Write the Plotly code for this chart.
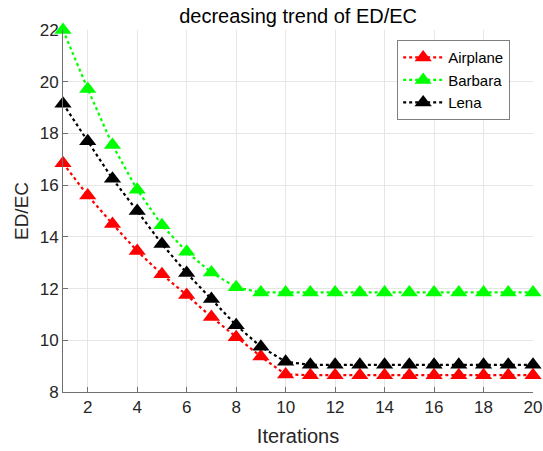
import plotly.graph_objects as go

iterations = list(range(1, 21))
airplane = [16.85, 15.6, 14.5, 13.45, 12.55, 11.75, 10.9, 10.12, 9.37, 8.68] + [8.65] * 10
barbara = [22.0, 19.72, 17.55, 15.82, 14.45, 13.42, 12.62, 12.05, 11.85, 11.85] + [11.85] * 10
lena = [19.15, 17.7, 16.25, 15.0, 13.72, 12.6, 11.6, 10.58, 9.75, 9.17] + [9.05] * 10

names = ["Airplane", "Barbara", "Lena"]
colors = ["#ff0000", "#00ff00", "#000000"]
series = [airplane, barbara, lena]

fig = go.Figure()
for name, col, vals in zip(names, colors, series):
    fig.add_trace(go.Scatter(
        x=iterations, y=vals, name=name, mode="lines+markers",
        line=dict(color=col, width=2.2, dash="dot"),
        marker=dict(symbol="triangle-up", size=15, color=col),
        cliponaxis=False,
    ))

font = "Liberation Sans, Arial, sans-serif"
fig.update_layout(
    width=543, height=451,
    margin=dict(l=63, r=10, t=30, b=59),
    paper_bgcolor="white", plot_bgcolor="white",
    font=dict(family=font, size=17, color="#262626"),
    title=dict(text="decreasing trend of ED/EC", x=0.549, xanchor="center",
               y=0.964, yanchor="middle", font=dict(family=font, size=20, color="#000000")),
    showlegend=True,
    legend=dict(x=0.711, y=0.972, xanchor="left", yanchor="top",
                bordercolor="#7f7f7f", borderwidth=1, bgcolor="white",
                font=dict(family=font, size=15, color="#000000"), tracegroupgap=0,
                itemwidth=40),
    xaxis=dict(range=[1, 20], tickvals=list(range(2, 21, 2)),
               showgrid=True, gridcolor="#e6e6e6", gridwidth=1,
               showline=True, linecolor="#707070", linewidth=1,
               ticks="inside", ticklen=5, tickcolor="#707070",
               zeroline=False, automargin=False,
               tickfont=dict(family=font, size=17, color="#262626"),
               title=dict(text="Iterations", font=dict(family=font, size=20, color="#262626"), standoff=12)),
    yaxis=dict(range=[8, 22], tickvals=list(range(8, 23, 2)),
               showgrid=True, gridcolor="#e6e6e6", gridwidth=1,
               showline=True, linecolor="#707070", linewidth=1,
               ticks="inside", ticklen=5, tickcolor="#707070",
               zeroline=False, automargin=False,
               tickfont=dict(family=font, size=17, color="#262626"),
               title=dict(text="ED/EC", font=dict(family=font, size=19, color="#262626"), standoff=6)),
)

fig.write_html(
    "out.html",
    config={"displayModeBar": False},
    post_script="document.body.style.margin='0px';document.body.style.overflow='hidden';",
)
